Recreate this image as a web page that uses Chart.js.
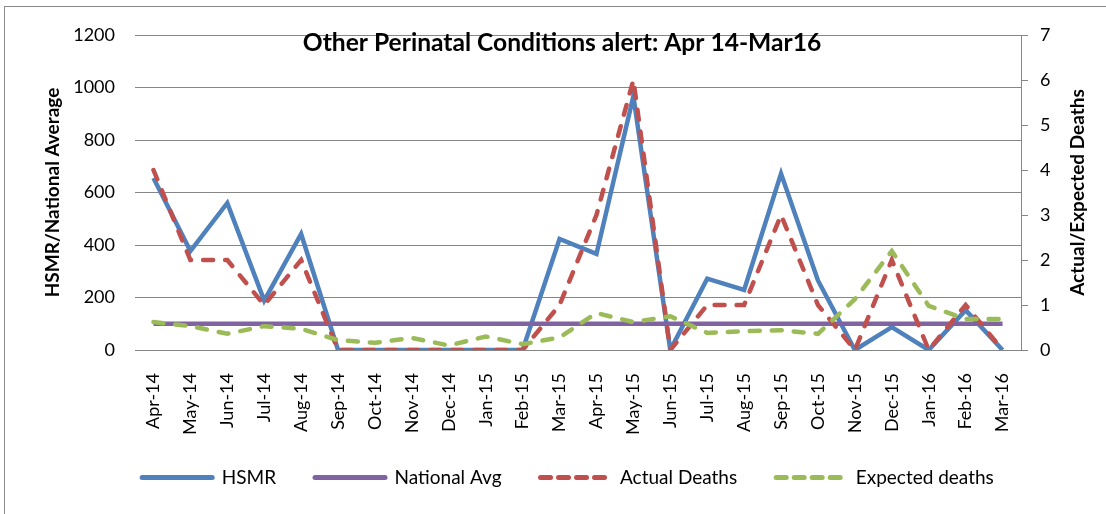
<!DOCTYPE html>
<html>
<head>
    <title>Other Perinatal Conditions alert</title>
    <script src="https://cdn.jsdelivr.net/npm/chart.js"></script>
    <style>
        body { margin: 0; background: #fff; }
        #wrap { position: relative; width: 1106px; height: 514px; overflow: hidden; }
        #frame { position: absolute; left: 4px; top: 6px; width: 1110px; height: 520px; border: 1px solid #8a8a8a; pointer-events: none; }
    </style>
</head>
<body>
    <div id="wrap">
        <canvas id="alertChart" width="1106" height="514"></canvas>
        <div id="frame"></div>
    </div>

    <script>
    // Chart data
    const months = ['Apr-14', 'May-14', 'Jun-14', 'Jul-14', 'Aug-14', 'Sep-14', 'Oct-14', 'Nov-14', 'Dec-14', 'Jan-15', 'Feb-15', 'Mar-15',
                    'Apr-15', 'May-15', 'Jun-15', 'Jul-15', 'Aug-15', 'Sep-15', 'Oct-15', 'Nov-15', 'Dec-15', 'Jan-16', 'Feb-16', 'Mar-16'];
    const hsmr = [655, 377, 560, 188, 442, 0, 0, 0, 0, 0, 0, 423, 366, 967, 0, 272, 229, 672, 265, 0, 87, 0, 152, 0];
    const nationalAvg = [100, 100, 100, 100, 100, 100, 100, 100, 100, 100, 100, 100, 100, 100, 100, 100, 100, 100, 100, 100, 100, 100, 100, 100];
    const actualDeaths = [4, 2, 2, 1, 2, 0, 0, 0, 0, 0, 0, 1, 3, 6, 0, 1, 1, 3, 1, 0, 2, 0, 1, 0];
    const expectedDeaths = [0.62, 0.53, 0.36, 0.53, 0.47, 0.22, 0.16, 0.27, 0.1, 0.3, 0.13, 0.28, 0.82, 0.62, 0.75, 0.38, 0.42, 0.44, 0.36, 1.13, 2.2, 0.98, 0.69, 0.69];
    const leftTicks = [0, 200, 400, 600, 800, 1000, 1200];
    const rightTicks = [0, 1, 2, 3, 4, 5, 6, 7];

    const chartTitle = 'Other Perinatal Conditions alert: Apr 14-Mar16';
    const rightTitle = 'Actual/Expected Deaths';

    Chart.defaults.font.family = 'Lato, "Liberation Sans", sans-serif';
    Chart.defaults.font.size = 18;
    Chart.defaults.color = '#000';

    const gridGrey = '#868686';

    // Title sits inside the plot and right axis title reads bottom-to-top, so draw them here
    const extraText = {
        id: 'extraText',
        afterDraw(chart) {
            const ctx = chart.ctx;
            const area = chart.chartArea;
            ctx.save();
            ctx.fillStyle = '#000';
            // fit title to the width it has in the original
            ctx.font = 'bold 20px Lato, sans-serif';
            const size = 20 * 519 / ctx.measureText(chartTitle).width;
            ctx.font = 'bold ' + size.toFixed(1) + 'px Lato, sans-serif';
            ctx.textAlign = 'center';
            ctx.textBaseline = 'alphabetic';
            ctx.fillText(chartTitle, 562, 50.5);

            ctx.translate(1078, (area.top + area.bottom) / 2);
            ctx.rotate(-Math.PI / 2);
            ctx.textBaseline = 'middle';
            ctx.font = 'bold 19px Lato, sans-serif';
            ctx.fillText(rightTitle, 0, 0);
            ctx.restore();
        }
    };

    new Chart(document.getElementById('alertChart'), {
        type: 'line',
        data: {
            labels: months,
            datasets: [{
                label: 'HSMR',
                data: hsmr,
                yAxisID: 'y',
                borderColor: '#4F81BD',
                backgroundColor: '#4F81BD',
                borderWidth: 4.5,
                order: 4
            }, {
                label: 'National Avg',
                data: nationalAvg,
                yAxisID: 'y',
                borderColor: '#8064A2',
                backgroundColor: '#8064A2',
                borderWidth: 4.5,
                order: 3
            }, {
                label: 'Actual Deaths',
                data: actualDeaths,
                yAxisID: 'y1',
                borderColor: '#C0504D',
                backgroundColor: '#C0504D',
                borderWidth: 4.5,
                borderDash: [10, 12],
                borderCapStyle: 'round',
                order: 2
            }, {
                label: 'Expected deaths',
                data: expectedDeaths,
                yAxisID: 'y1',
                borderColor: '#9BBB59',
                backgroundColor: '#9BBB59',
                borderWidth: 4.5,
                borderDash: [10, 12],
                borderCapStyle: 'round',
                order: 1
            }]
        },
        options: {
            responsive: false,
            animation: false,
            devicePixelRatio: 1,
            layout: { padding: { left: 30, right: 0, top: 35, bottom: 17 } },
            elements: {
                point: { radius: 0 },
                line: { tension: 0 }
            },
            plugins: {
                legend: {
                    position: 'bottom',
                    labels: {
                        usePointStyle: true,
                        pointStyle: 'line',
                        pointStyleWidth: 70,
                        padding: 39,
                        font: { size: 19 },
                        sort: (a, b) => a.datasetIndex - b.datasetIndex,
                        generateLabels(chart) {
                            const items = Chart.defaults.plugins.legend.labels.generateLabels(chart);
                            items.forEach(item => {
                                const ds = chart.data.datasets[item.datasetIndex];
                                item.lineDash = ds.borderDash ? [10, 8] : [];
                                item.lineCap = 'round';
                                item.lineWidth = 5;
                            });
                            return items;
                        }
                    }
                },
                tooltip: { enabled: false }
            },
            scales: {
                x: {
                    offset: true,
                    grid: { display: false },
                    border: { display: false },
                    ticks: { autoSkip: false, minRotation: 90, maxRotation: 90, padding: 15 },
                    afterFit(scale) {
                        scale.height = 79;
                        // labels are a bit longer than the axis box, don't clip them
                        scale._computeLabelArea = () => undefined;
                    }
                },
                y: {
                    position: 'left',
                    min: 0,
                    max: 1200,
                    afterBuildTicks(scale) { scale.ticks = leftTicks.map(v => ({ value: v })); },
                    grid: { color: gridGrey, lineWidth: 1, drawTicks: false },
                    border: { display: false },
                    ticks: { padding: 20, callback: v => String(v) },
                    title: {
                        display: true,
                        text: 'HSMR/National Average',
                        font: { size: 19, weight: 'bold' },
                        padding: { top: 11, bottom: 0 }
                    },
                    afterFit(scale) { scale.width = 105; }
                },
                y1: {
                    position: 'right',
                    min: 0,
                    max: 7,
                    afterBuildTicks(scale) { scale.ticks = rightTicks.map(v => ({ value: v })); },
                    grid: { drawOnChartArea: false, drawTicks: true, tickLength: 7, color: gridGrey },
                    border: { display: true, color: gridGrey, width: 1 },
                    ticks: { padding: 12, callback: v => String(v) },
                    afterFit(scale) { scale.width = 85; }
                }
            }
        },
        plugins: [extraText]
    });
    </script>
</body>
</html>
